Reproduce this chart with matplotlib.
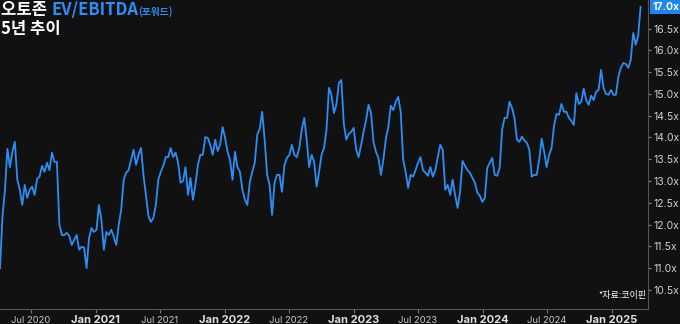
import matplotlib
matplotlib.use("Agg")
import matplotlib.pyplot as plt
import matplotlib.dates as mdates
from matplotlib.ticker import FuncFormatter, FixedLocator
import numpy as np
import pandas as pd

plt.rcParams['font.family'] = ['Noto Sans CJK KR', 'DejaVu Sans']

# weekly forward EV/EBITDA
dates = pd.date_range("2020-04-05", periods=260, freq="7D")
ev_ebitda = [
    11.00, 12.18, 12.80, 13.74, 13.32, 13.67, 13.90, 13.03, 12.80, 12.45,
    12.91, 12.61, 12.80, 12.87, 12.68, 13.05, 13.10, 13.35, 13.21, 13.42,
    13.25, 13.65, 13.44, 13.44, 12.00, 11.76, 11.76, 11.81, 11.74, 11.53,
    11.65, 11.76, 11.42, 11.49, 11.47, 11.00, 11.69, 11.92, 11.83, 11.88,
    12.45, 12.11, 11.42, 11.83, 11.76, 11.88, 11.72, 11.53, 11.99, 12.34,
    13.03, 13.19, 13.25, 13.49, 13.72, 13.37, 13.60, 13.76, 13.14, 12.66,
    12.20, 12.06, 12.15, 12.45, 13.03, 13.21, 13.35, 13.55, 13.55, 13.76,
    13.55, 13.65, 13.42, 12.96, 13.00, 13.32, 12.68, 13.07, 12.57, 12.91,
    13.37, 13.60, 13.60, 14.01, 13.99, 13.83, 13.60, 13.95, 13.69, 13.83,
    14.24, 13.99, 13.67, 13.49, 13.03, 13.67, 13.32, 13.21, 12.80, 12.57,
    12.45, 12.98, 13.21, 13.42, 14.06, 14.20, 14.59, 13.95, 13.14, 12.91,
    12.22, 12.96, 13.14, 13.14, 12.75, 13.37, 13.53, 13.60, 13.83, 13.60,
    13.55, 13.76, 14.18, 14.45, 13.95, 13.32, 13.60, 13.44, 12.87, 13.21,
    13.60, 13.76, 14.18, 15.14, 14.98, 14.56, 14.75, 15.25, 15.32, 14.31,
    13.95, 14.08, 14.13, 14.22, 13.72, 13.55, 13.83, 14.13, 14.40, 14.75,
    14.56, 13.90, 13.67, 13.53, 13.14, 13.49, 13.97, 14.24, 14.73, 14.63,
    14.82, 14.93, 14.59, 13.49, 13.21, 12.84, 13.14, 13.10, 13.25, 13.42,
    13.55, 13.25, 13.19, 13.12, 13.32, 13.10, 13.25, 13.55, 13.83, 13.72,
    12.80, 12.91, 12.68, 13.03, 12.68, 12.38, 12.75, 13.46, 13.35, 13.25,
    13.19, 13.07, 12.96, 12.73, 12.66, 12.52, 12.61, 13.30, 13.42, 13.53,
    13.14, 13.12, 13.30, 14.18, 14.45, 14.45, 14.82, 14.68, 14.45, 13.95,
    13.90, 14.02, 13.93, 13.88, 13.72, 13.10, 13.14, 13.14, 13.49, 13.97,
    13.67, 13.32, 13.60, 13.76, 14.27, 14.54, 14.52, 14.77, 14.59, 14.59,
    14.45, 14.38, 14.29, 15.02, 14.77, 14.82, 15.12, 14.86, 14.75, 14.96,
    14.86, 15.05, 15.09, 15.55, 15.14, 15.00, 14.98, 15.09, 14.98, 14.98,
    15.39, 15.60, 15.71, 15.69, 15.60, 15.78, 16.40, 16.13, 16.33, 17.00,
]
y_ticks = [10.5, 11.0, 11.5, 12.0, 12.5, 13.0, 13.5, 14.0, 14.5, 15.0, 15.5, 16.0, 16.5]

bg = "#111111"
blue = "#2b8ef5"

fig = plt.figure(figsize=(6.8, 3.24), dpi=100, facecolor=bg)
ax = fig.add_axes([0.0, 0.0463, 0.953, 0.954], facecolor=bg)

ax.plot(dates, ev_ebitda, color=blue, lw=1.3, solid_joinstyle="round")

ax.set_xlim(pd.Timestamp("2020-04-05"), pd.Timestamp("2025-04-13"))
ax.set_ylim(10.06, 17.16)

for s in ["top", "left"]:
    ax.spines[s].set_visible(False)
for s in ["right", "bottom"]:
    ax.spines[s].set_color("#555555")
    ax.spines[s].set_linewidth(0.8)

# y axis on the right
ax.yaxis.tick_right()
ax.yaxis.set_major_locator(FixedLocator(y_ticks))
ax.yaxis.set_major_formatter(FuncFormatter(lambda v, p: f"{v:.1f}x"))
ax.tick_params(axis="y", colors="#888888", length=2, width=0.8, pad=2,
               labelsize=7.5, labelcolor="#d0d0d0")
for lab in ax.get_yticklabels():
    lab.set_family("Inter")

# x axis: Jan bold, Jul light
ax.xaxis.set_major_locator(mdates.MonthLocator(bymonth=[1]))
ax.xaxis.set_major_formatter(mdates.DateFormatter("%b %Y"))
ax.xaxis.set_minor_locator(mdates.MonthLocator(bymonth=[7]))
ax.xaxis.set_minor_formatter(mdates.DateFormatter("%b %Y"))
ax.tick_params(axis="x", which="major", colors="#777777", length=3, width=0.8,
               pad=1, labelsize=8, labelcolor="#e0e0e0")
ax.tick_params(axis="x", which="minor", colors="#777777", length=3, width=0.8,
               pad=2, labelsize=6.8, labelcolor="#c8c8c8")
for lab in ax.get_xticklabels(which="major"):
    lab.set_family("Inter")
    lab.set_fontweight("bold")
for lab in ax.get_xticklabels(which="minor"):
    lab.set_family("Inter")

# last value box
ax.annotate(f"{ev_ebitda[-1]:.1f}x", xy=(1.0, ev_ebitda[-1]),
            xycoords=("axes fraction", "data"), xytext=(3, 0),
            textcoords="offset points", ha="left", va="center",
            fontsize=7.5, fontweight="bold", color="white", family="Inter",
            bbox=dict(boxstyle="square,pad=0.25", fc="#1f86f0", ec="none"),
            annotation_clip=False)

# title
t1 = fig.text(0.002, 0.997, "오토존 ", color="white", fontsize=12,
              fontweight="bold", ha="left", va="top")
t2 = ax.annotate("EV/EBITDA", xy=(1, 0), xycoords=t1, va="bottom",
                 color=blue, fontsize=12, fontweight="bold")
ax.annotate("(포워드)", xy=(1, 0.12), xycoords=t2, va="bottom",
            color=blue, fontsize=7, fontweight="bold")
fig.text(0.002, 0.937, "5년 추이", color="white", fontsize=12,
         fontweight="bold", ha="left", va="top")

# source
ax.text(0.997, 0.03, "*자료:코이핀", transform=ax.transAxes, ha="right",
        va="bottom", fontsize=6.5, color="white")

fig.savefig("out.png", dpi=100, facecolor=bg)
